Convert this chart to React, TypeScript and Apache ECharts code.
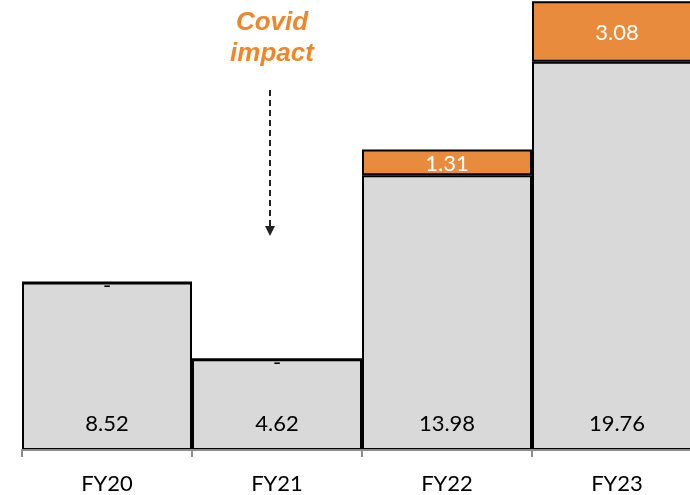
import React, { useEffect, useRef } from "react";
import * as echarts from "echarts";

const categories = ["FY20", "FY21", "FY22", "FY23"];
const baseValues = [8.52, 4.62, 13.98, 19.76];
const extraValues = [0, 0, 1.31, 3.08];
const annotationLines = ["Covid", "impact"];

export default function App() {
  const ref = useRef<HTMLDivElement>(null);
  useEffect(() => {
    if (!ref.current) return;
    const chart = echarts.init(ref.current, null, { renderer: "svg" });
    const font = "Lato, 'Open Sans', sans-serif";
    chart.setOption({
      animation: false,
      grid: { left: 22, top: 0, bottom: 45, width: 680, outerBoundsMode: "none", containLabel: false },
      xAxis: {
        type: "category",
        data: categories,
        z: 5,
        axisLine: { lineStyle: { color: "#8c8c8c", width: 2 } },
        axisTick: { show: true, length: 7, lineStyle: { color: "#8c8c8c", width: 2 } },
        axisLabel: { color: "#000", fontSize: 22, fontFamily: font, margin: 21 },
      },
      yAxis: { type: "value", min: 0, max: 22.9, show: false, splitLine: { show: false } },
      series: [
        {
          type: "bar",
          stack: "t",
          data: baseValues,
          barWidth: "100%",
          barCategoryGap: 0,
          itemStyle: { color: "#d9d9d9", borderColor: "#000", borderWidth: 2 },
          label: {
            show: true,
            position: "insideBottom",
            distance: 17,
            color: "#000",
            fontSize: 22,
            fontFamily: font,
          },
        },
        {
          type: "bar",
          stack: "t",
          data: extraValues.map((v) =>
            v === 0
              ? { value: v, label: { offset: [0, 2], color: "#000" } }
              : { value: v }
          ),
          barWidth: "100%",
          barCategoryGap: 0,
          itemStyle: { color: "#e98b3d", borderColor: "#000", borderWidth: 2 },
          label: {
            show: true,
            position: "inside",
            color: "#fff",
            fontSize: 22,
            fontFamily: font,
            formatter: (p: any) => (p.value === 0 ? "-" : p.value.toFixed(2)),
          },
        },
      ],
      graphic: [
        {
          type: "text",
          x: 272,
          y: 21,
          style: {
            text: annotationLines[0],
            fill: "#f0862a",
            font: "italic bold 26px 'Liberation Sans', Arial, sans-serif",
            align: "center",
            verticalAlign: "middle",
          },
        },
        {
          type: "text",
          x: 272,
          y: 52,
          style: {
            text: annotationLines[1],
            fill: "#f0862a",
            font: "italic bold 26px 'Liberation Sans', Arial, sans-serif",
            align: "center",
            verticalAlign: "middle",
          },
        },
        {
          type: "line",
          shape: { x1: 270, y1: 90, x2: 270, y2: 228 },
          style: { stroke: "#222", lineWidth: 2, lineDash: [6, 4] },
        },
        {
          type: "polygon",
          shape: { points: [[265, 226], [275, 226], [270, 236]] },
          style: { fill: "#222" },
        },
      ],
    });
    return () => chart.dispose();
  }, []);
  return (
    <div
      ref={ref}
      style={{ position: "fixed", left: 0, top: 0, width: 690, height: 495 }}
    />
  );
}
